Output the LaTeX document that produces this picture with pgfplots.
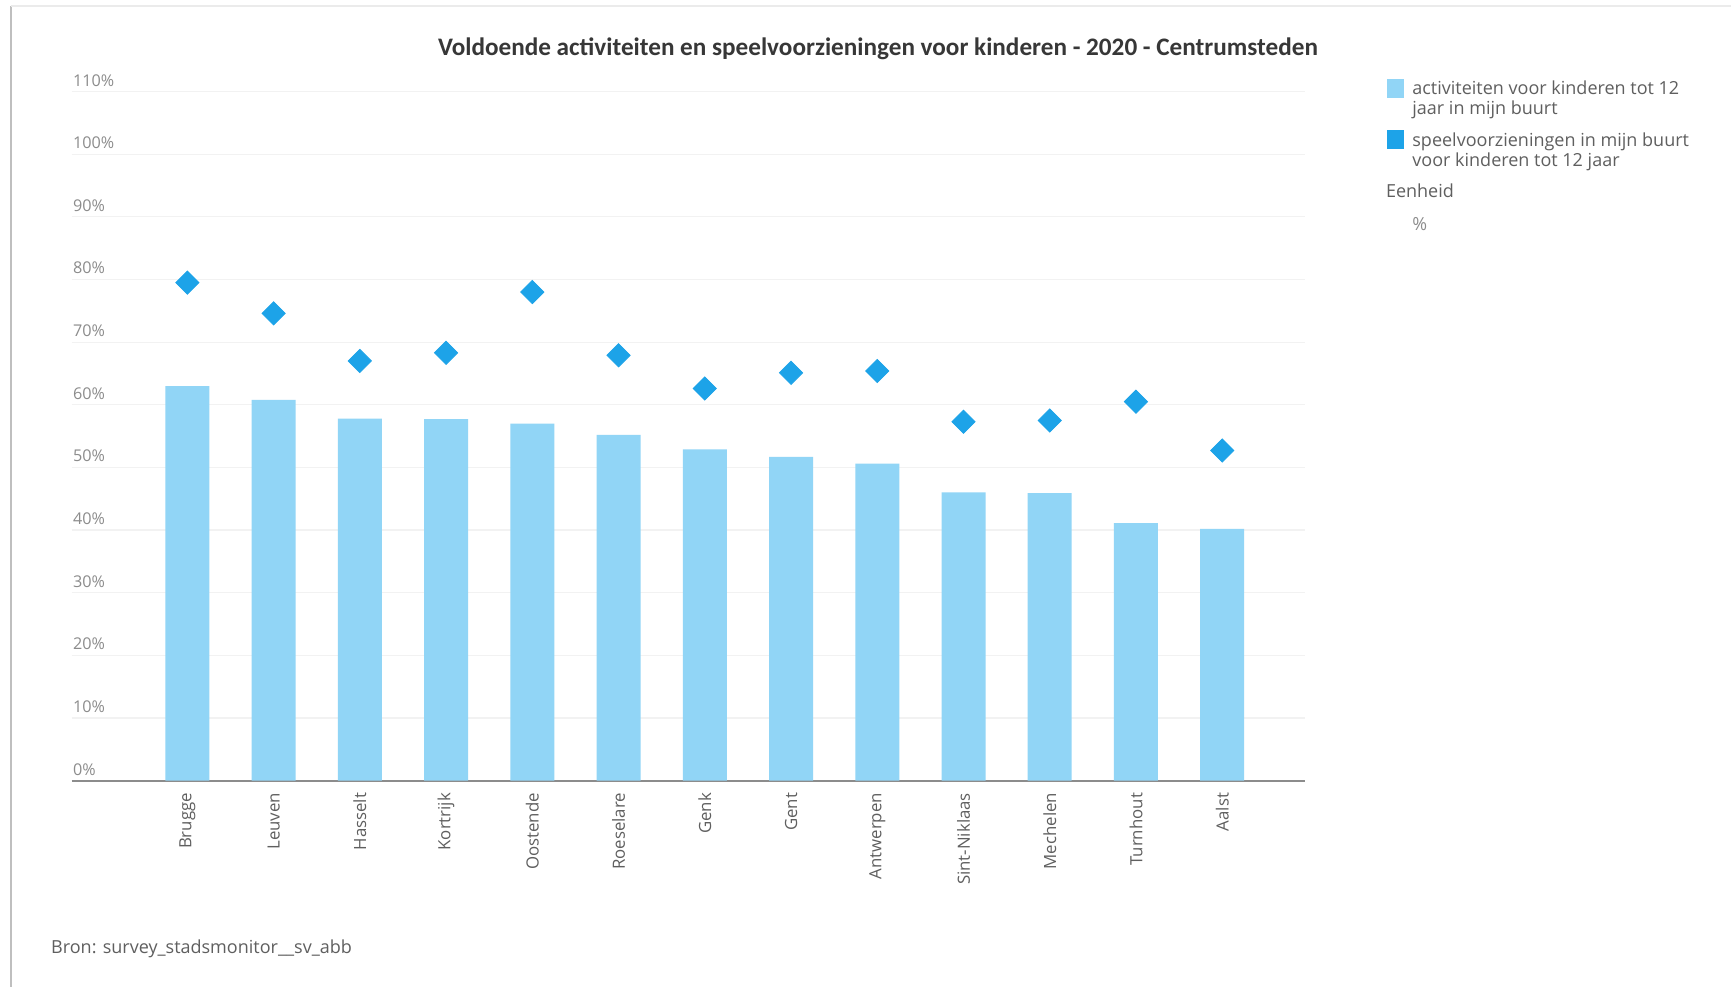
\documentclass[border=0pt]{standalone}
\usepackage{pgfplots}
\pgfplotsset{compat=1.18}
\usepackage{fontspec}
\setmainfont{Carlito}
\newfontfamily\opensans{Open Sans}

\definecolor{barblue}{RGB}{145,213,246}
\definecolor{dotblue}{RGB}{29,163,232}
\definecolor{titlegray}{RGB}{55,55,55}
\definecolor{textgray}{RGB}{95,95,95}
\definecolor{tickgray}{RGB}{140,140,140}

\begin{document}
\begin{tikzpicture}
% full image is 1731 x 987 px, 1 px = 0.5pt
\useasboundingbox (0,0) rectangle (865.5pt,-493.5pt);
\fill[white] (0,0) rectangle (865.5pt,-493.5pt);
\draw[black!25, line width=1pt] (5.5pt,-3pt) -- (5.5pt,-493.5pt);
\draw[black!8, line width=1pt] (5.5pt,-3pt) -- (865.5pt,-3pt);

\begin{axis}[
    at={(35.9pt,-390.3pt)}, anchor=south west,
    scale only axis,
    width=616.6pt, height=344.5pt,
    xmin=-1.34, xmax=12.96,
    ymin=0, ymax=110,
    ytick={0,10,...,110},
    yticklabel={\pgfmathprintnumber{\tick}\%},
    xtick={0,...,12},
    xticklabels={Brugge,Leuven,Hasselt,Kortrijk,Oostende,Roeselare,Genk,Gent,Antwerpen,Sint-Niklaas,Mechelen,Turnhout,Aalst},
    /pgf/number format/assume math mode=true,
    axis x line*=bottom,
    axis y line*=left,
    x axis line style={draw=black!45, line width=1pt, -},
    y axis line style={draw=none},
    major tick length=0pt,
    ymajorgrids,
    grid style={black!5, line width=0.6pt},
    yticklabel style={font=\opensans\fontsize{8.1}{9}\selectfont, text=tickgray, anchor=south west, inner sep=0pt, xshift=0.5pt, yshift=2.5pt},
    xticklabel style={font=\opensans\fontsize{8.4}{10}\selectfont, text=textgray, rotate=90, anchor=east, inner sep=0pt},
    xticklabel shift=6pt,
    clip=false,
]
% activiteiten voor kinderen tot 12 jaar in mijn buurt
\addplot[ybar, bar width=22pt, fill=barblue, draw=none] coordinates {
    (0,63.0) (1,60.8) (2,57.8) (3,57.7) (4,57.0) (5,55.2) (6,52.9)
    (7,51.7) (8,50.6) (9,46.0) (10,45.9) (11,41.1) (12,40.2)
};
% speelvoorzieningen in mijn buurt voor kinderen tot 12 jaar
\addplot[only marks, mark=square*, mark size=4.1pt, mark options={rotate=45, fill=dotblue, draw=dotblue}] coordinates {
    (0,79.5) (1,74.6) (2,67.0) (3,68.3) (4,78.0) (5,67.9) (6,62.6)
    (7,65.1) (8,65.4) (9,57.3) (10,57.5) (11,60.5) (12,52.7)
};
\end{axis}

\node[font=\bfseries\fontsize{12.6}{14}\selectfont, text=titlegray] at (439pt,-24.3pt)
    {Voldoende activiteiten en speelvoorzieningen voor kinderen - 2020 - Centrumsteden};

% legend
\fill[barblue] (693.3pt,-39.7pt) rectangle (702.2pt,-49pt);
\fill[dotblue] (693.3pt,-65pt) rectangle (702.2pt,-74.5pt);
\node[anchor=north west, inner sep=0pt, align=left, text=textgray, font=\opensans\fontsize{9}{10}\selectfont] at (706pt,-40.3pt)
    {activiteiten voor kinderen tot 12\\jaar in mijn buurt};
\node[anchor=north west, inner sep=0pt, align=left, text=textgray, font=\opensans\fontsize{9}{10}\selectfont] at (706pt,-66.3pt)
    {speelvoorzieningen in mijn buurt\\voor kinderen tot 12 jaar};
\node[anchor=west, inner sep=0pt, text=textgray, font=\opensans\fontsize{9}{10}\selectfont] at (692.8pt,-95.5pt) {Eenheid};
\node[anchor=west, inner sep=0pt, text=tickgray, font=\opensans\fontsize{9}{10}\selectfont] at (706pt,-112pt) {\%};

% source
\node[anchor=west, inner sep=0pt, text=textgray, font=\opensans\fontsize{9}{10}\selectfont] at (25.4pt,-474.3pt)
    {Bron: survey\_stadsmonitor\_\_sv\_abb};
\end{tikzpicture}
\end{document}
